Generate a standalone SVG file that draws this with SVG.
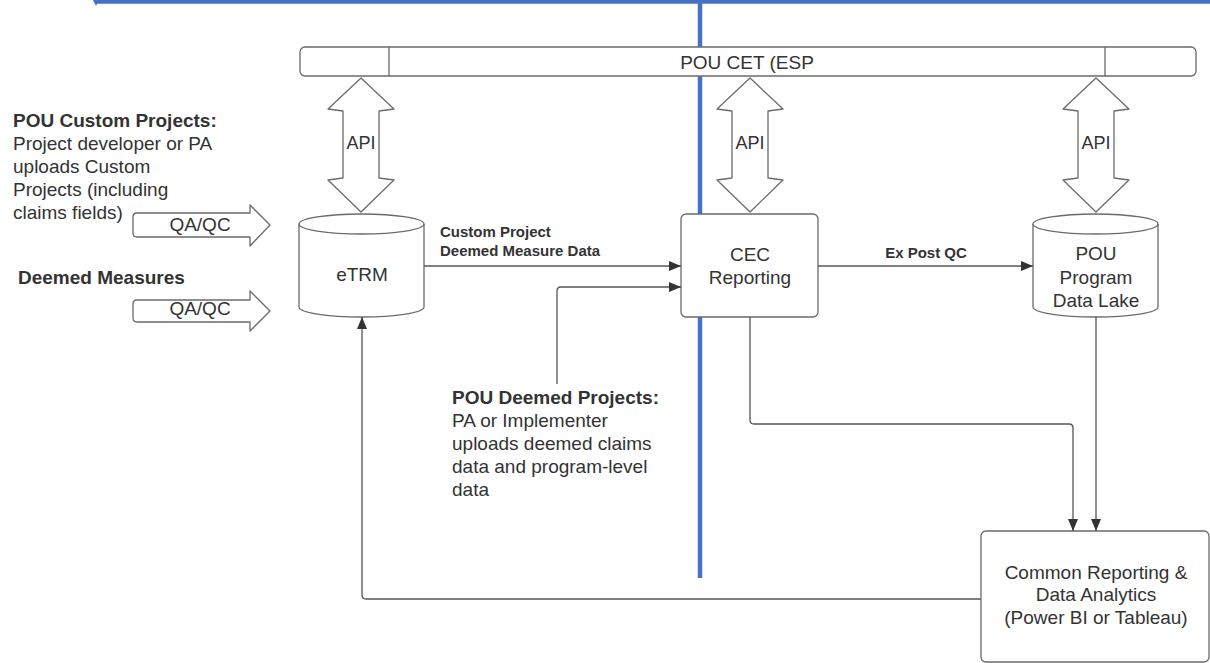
<svg xmlns="http://www.w3.org/2000/svg" width="1210" height="663" viewBox="0 0 1210 663">
<defs>
<style>
.shape{fill:#fff;stroke:#6b6b6b;stroke-width:1.3;stroke-linejoin:round}
.conn{fill:none;stroke:#555;stroke-width:1.3}
.t{font-family:"Liberation Sans",Arial,sans-serif;font-size:19px;fill:#333}
.b{font-weight:bold}
.s{font-size:15px}
.m{text-anchor:middle}
.blue{fill:none;stroke:#4472c4;stroke-width:4.5}
</style>
<marker id="ah" viewBox="0 0 12 10" markerWidth="12" markerHeight="10" refX="12" refY="5" orient="auto" markerUnits="userSpaceOnUse">
<path d="M0,0 L12,5 L0,10 z" fill="#333"/>
</marker>
</defs>
<rect width="1210" height="663" fill="#fff"/>
<g id="swimlanes">
<path class="blue" d="M96,1.5 L1210,1.5"/>
<path d="M93,0 L99,0 L96,6 z" fill="#4472c4"/>
<path class="blue" d="M700,0 L700,578"/>
</g>
<g id="pou-cet">
<rect class="shape" x="300" y="47" width="896" height="29" rx="5"/>
<path class="shape" d="M389,47 L389,76 M1105,47 L1105,76"/>
<text class="t m" x="747" y="69">POU CET (ESP</text>
</g>
<g id="api-etrm">
<path class="shape" d="M361,78 L394,109 L379,111 L379,178 L394,180 L361,212 L328,180 L343,178 L343,111 L328,109 Z"/>
<text class="t m" x="361" y="149" style="font-size:18px">API</text>
</g>
<g id="api-cec">
<path class="shape" d="M750,78 L783,109 L768,111 L768,178 L783,180 L750,212 L717,180 L732,178 L732,111 L717,109 Z"/>
<text class="t m" x="750" y="149" style="font-size:18px">API</text>
</g>
<g id="api-lake">
<path class="shape" d="M1096,78 L1129,109 L1114,111 L1114,178 L1129,180 L1096,212 L1063,180 L1078,178 L1078,111 L1063,109 Z"/>
<text class="t m" x="1096" y="149" style="font-size:18px">API</text>
</g>
<g id="custom-projects-text">
<text class="t b" x="13" y="127">POU Custom Projects:</text>
<text class="t" x="13" y="150">Project developer or PA</text>
<text class="t" x="13" y="173">uploads Custom</text>
<text class="t" x="13" y="196">Projects (including</text>
<text class="t" x="13" y="219">claims fields)</text>
</g>
<g id="deemed-measures-text">
<text class="t b" x="18" y="284">Deemed Measures</text>
</g>
<g id="qaqc-1">
<path class="shape" d="M137,213 L250,213 L250,205 L270,225 L250,246 L250,237 L137,237 Q133,237 133,233 L133,217 Q133,213 137,213 Z"/>
<text class="t m" x="200" y="231">QA/QC</text>
</g>
<g id="qaqc-2">
<path class="shape" d="M137,300 L250,300 L250,291 L270,311 L250,331 L250,322 L137,322 Q133,322 133,318 L133,304 Q133,300 137,300 Z"/>
<text class="t m" x="200" y="315">QA/QC</text>
</g>
<g id="etrm">
<path class="shape" d="M299,224 A62.5,10 0 0,1 424,224 L424,307 A62.5,10 0 0,1 299,307 Z"/>
<path class="shape" style="fill:none" d="M299,224 A62.5,10 0 0,0 424,224"/>
<text class="t m" x="362" y="281">eTRM</text>
</g>
<g id="cec-reporting">
<rect class="shape" x="681" y="214" width="137" height="103" rx="5"/>
<text class="t m" x="750" y="261">CEC</text>
<text class="t m" x="750" y="284">Reporting</text>
</g>
<g id="data-lake">
<path class="shape" d="M1033,224 A62.5,10 0 0,1 1158,224 L1158,307 A62.5,10 0 0,1 1033,307 Z"/>
<path class="shape" style="fill:none" d="M1033,224 A62.5,10 0 0,0 1158,224"/>
<text class="t m" x="1096" y="260">POU</text>
<text class="t m" x="1096" y="284">Program</text>
<text class="t m" x="1096" y="307">Data Lake</text>
</g>
<g id="deemed-projects-text">
<text class="t b" x="452" y="404">POU Deemed Projects:</text>
<text class="t" x="452" y="427">PA or Implementer</text>
<text class="t" x="452" y="450">uploads deemed claims</text>
<text class="t" x="452" y="473">data and program-level</text>
<text class="t" x="452" y="496">data</text>
</g>
<g id="common-reporting">
<rect class="shape" x="981" y="531" width="228" height="131" rx="5"/>
<text class="t m" x="1096" y="579">Common Reporting &amp;</text>
<text class="t m" x="1096" y="601">Data Analytics</text>
<text class="t m" x="1096" y="624">(Power BI or Tableau)</text>
</g>
<g id="connectors">
<path class="conn" d="M424,266 L681,266" marker-end="url(#ah)"/>
<text class="t b s" x="440" y="237">Custom Project</text>
<text class="t b s" x="440" y="256">Deemed Measure Data</text>
<path class="conn" d="M557,384 L557,291 Q557,287 561,287 L681,287" marker-end="url(#ah)"/>
<path class="conn" d="M818,266 L1033,266" marker-end="url(#ah)"/>
<text class="t b s m" x="926" y="258">Ex Post QC</text>
<path class="conn" d="M750,317 L750,420 Q750,424 754,424 L1069,424 Q1073,424 1073,428 L1073,531" marker-end="url(#ah)"/>
<path class="conn" d="M1096,317 L1096,531" marker-end="url(#ah)"/>
<path class="conn" d="M981,599 L366,599 Q362,599 362,595 L362,317" marker-end="url(#ah)"/>
</g>
</svg>
